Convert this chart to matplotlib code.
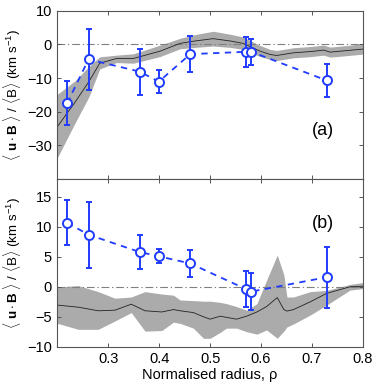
import numpy as np
import matplotlib
matplotlib.use("Agg")
import matplotlib.pyplot as plt

plt.rcParams['font.family'] = ['Liberation Sans', 'DejaVu Sans']
plt.rcParams['mathtext.fontset'] = 'custom'
plt.rcParams['mathtext.rm'] = 'Liberation Sans'
plt.rcParams['mathtext.bf'] = 'Liberation Sans:bold'
plt.rcParams['mathtext.it'] = 'Liberation Sans:italic'

# measured points (same radii in both panels)
rho_pts = [0.219, 0.261, 0.362, 0.399, 0.461, 0.571, 0.581, 0.729]
a_vals = [-17.5, -4.45, -8.1, -11.1, -2.9, -2.2, -2.2, -10.7]
a_errs = [6.5, 9.1, 6.8, 3.4, 5.3, 4.4, 3.8, 5.0]
b_vals = [10.7, 8.7, 5.8, 5.1, 3.9, -0.4, -0.8, 1.6]
b_errs = [3.8, 5.5, 2.9, 1.2, 2.3, 3.0, 3.1, 5.1]

# model curve + band, panel (a)
a_rho = [0.200, 0.234, 0.262, 0.283, 0.316, 0.349, 0.402, 0.441, 0.470, 0.506,
         0.540, 0.565, 0.598, 0.618, 0.631, 0.664, 0.700, 0.723, 0.736, 0.765, 0.800]
a_line = [-24.4, -17.3, -11.0, -5.6, -4.2, -4.2, -2.0, 0.3, 1.0, 1.7,
          1.0, 0.3, -2.0, -3.0, -3.3, -2.5, -2.1, -1.7, -2.3, -1.9, -1.4]
a_hi = [-14.8, -10.9, -6.5, -3.7, -3.2, -2.8, -0.2, 1.8, 2.9, 3.9,
        3.0, 2.2, -0.3, -1.5, -1.8, -1.0, -0.6, -0.2, -0.8, -0.4, 0.2]
a_lo = [-33.6, -23.5, -15.5, -7.3, -5.4, -5.6, -3.6, -1.3, -0.9, -0.5,
        -0.9, -1.5, -3.6, -4.5, -4.8, -4.0, -3.6, -3.2, -3.8, -3.4, -2.9]

# model curve + band, panel (b)
b_rho = [0.200, 0.241, 0.280, 0.313, 0.345, 0.372, 0.405, 0.428, 0.441, 0.467,
         0.487, 0.500, 0.520, 0.532, 0.552, 0.572, 0.592, 0.611, 0.632, 0.645,
         0.651, 0.664, 0.697, 0.729, 0.775, 0.800]
b_line = [-3.05, -3.4, -4.0, -3.9, -2.9, -4.0, -4.2, -3.8, -4.0, -4.3,
          -5.0, -5.4, -4.9, -5.1, -5.4, -4.9, -4.2, -3.3, -1.8, -3.8,
          -4.05, -3.8, -2.5, -1.1, 0.0, 0.1]
b_hi = [0.0, 0.2, -0.8, -1.9, -1.7, -0.8, -1.2, -1.4, -2.2, -2.3,
        -2.4, -2.4, -2.6, -2.8, -3.3, -3.9, -2.8, 1.1, 5.3, 2.0,
        -1.7, -1.7, -0.8, -0.6, 0.4, 0.7]
b_lo = [-6.1, -7.1, -7.1, -5.7, -4.3, -7.4, -7.3, -5.9, -6.1, -6.9,
        -8.6, -8.6, -7.6, -6.9, -6.9, -7.5, -7.9, -7.2, -8.6, -7.4,
        -6.7, -6.2, -4.7, -3.05, -0.55, -0.3]

blue = '#1f3cff'
band = '#ababab'
spine = '#555555'

fig = plt.figure(figsize=(3.82, 3.90), dpi=100)
ax_a = fig.add_axes([0.1505, 0.541, 0.799, 0.4315])
ax_b = fig.add_axes([0.1505, 0.111, 0.799, 0.430])

ylabel = r'$\langle\ \mathbf{u}\cdot\mathbf{B}\ \rangle\ /\ \langle\mathrm{B}\rangle\ (\mathrm{km\ s^{-1}})$'


def draw(ax, rho, line, lo, hi, vals, errs):
    ax.fill_between(rho, lo, hi, color=band, lw=0, zorder=1)
    ax.plot(rho, line, color='#222222', lw=0.6, zorder=2)
    ax.axhline(0, color='#808080', lw=0.8, ls=(0, (7, 2.5, 1.2, 2.5)), zorder=1.5)
    ax.plot(rho_pts, vals, ls='--', color=blue, lw=1.3, dashes=(3.5, 3), zorder=3)
    ax.errorbar(rho_pts, vals, yerr=errs, fmt='o', color=blue, mfc='white', mec=blue,
                mew=1.4, ms=6.5, elinewidth=1.4, capsize=2.5, capthick=1.2, zorder=4)
    ax.set_xlim(0.2, 0.8)
    ax.set_xticks([0.3, 0.4, 0.5, 0.6, 0.7, 0.8])
    ax.tick_params(direction='in', top=True, right=True, labelsize=10.5,
                   length=3, width=0.7, color=spine, pad=4)
    for s in ax.spines.values():
        s.set_color(spine)
        s.set_linewidth(0.8)
    ax.set_ylabel(ylabel, fontsize=9.6)
    ax.yaxis.set_label_coords(-0.112, 0.5)


draw(ax_a, a_rho, a_line, a_lo, a_hi, a_vals, a_errs)
ax_a.set_ylim(-40, 10)
ax_a.set_yticks([-30, -20, -10, 0, 10])
ax_a.tick_params(labelbottom=False)
ax_a.text(0.722, -25.7, '(a)', fontsize=13, ha='center', va='center')

draw(ax_b, b_rho, b_line, b_lo, b_hi, b_vals, b_errs)
ax_b.set_ylim(-10, 18)
ax_b.set_yticks([-10, -5, 0, 5, 10, 15])
ax_b.text(0.722, 10.6, '(b)', fontsize=13, ha='center', va='center')
ax_b.set_xlabel('Normalised radius, ρ', fontsize=10.5, labelpad=1)

fig.savefig('out.png', dpi=100)
